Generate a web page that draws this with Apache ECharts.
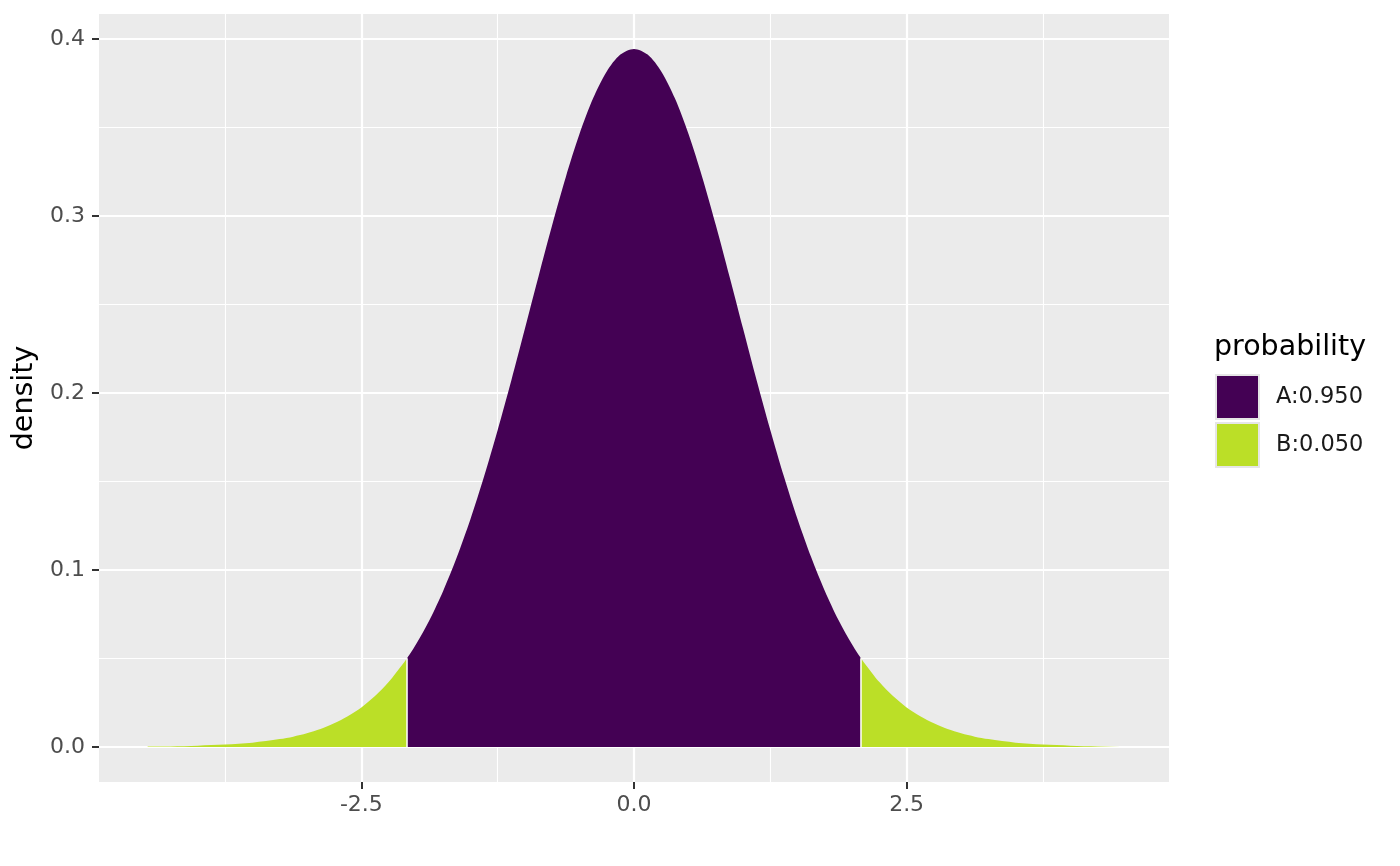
<!DOCTYPE html>
<html>
<head>
<meta charset="utf-8">
<title>density</title>
<script src="https://cdn.jsdelivr.net/npm/echarts@6/dist/echarts.min.js"></script>
<style>
  html, body { margin: 0; padding: 0; background: #fff; }
  #chart { width: 1400px; height: 866px; }
</style>
</head>
<body>
<div id="chart"></div>
<script>
// values: x and density for the three filled regions
const cutoff = 2.08;
const tailLeftX = [-4.46, -4.25, -4.0, -3.75, -3.5, -3.25, -3.125, -3.0, -2.875, -2.75, -2.625, -2.5, -2.375, -2.25, -2.08];
const tailLeftY = [0.0003, 0.0004, 0.0008, 0.0014, 0.0025, 0.0045, 0.0059, 0.0078, 0.0102, 0.0134, 0.0174, 0.0224, 0.0288, 0.0367, 0.0502];
const centerX = [-2.08, -2.0, -1.875, -1.75, -1.625, -1.5, -1.375, -1.25, -1.125, -1.0, -0.875, -0.75, -0.625, -0.5, -0.375, -0.25, -0.125, 0,
                 0.125, 0.25, 0.375, 0.5, 0.625, 0.75, 0.875, 1.0, 1.125, 1.25, 1.375, 1.5, 1.625, 1.75, 1.875, 2.0, 2.08];
const centerY = [0.0502, 0.0579, 0.0718, 0.0882, 0.1072, 0.1287, 0.1528, 0.1791, 0.2071, 0.2364, 0.2659, 0.2948, 0.3220, 0.3462, 0.3664, 0.3816, 0.3911, 0.3943,
                 0.3911, 0.3816, 0.3664, 0.3462, 0.3220, 0.2948, 0.2659, 0.2364, 0.2071, 0.1791, 0.1528, 0.1287, 0.1072, 0.0882, 0.0718, 0.0579, 0.0502];
const tailRightX = [2.08, 2.25, 2.375, 2.5, 2.625, 2.75, 2.875, 3.0, 3.125, 3.25, 3.5, 3.75, 4.0, 4.25, 4.46];
const tailRightY = [0.0502, 0.0367, 0.0288, 0.0224, 0.0174, 0.0134, 0.0102, 0.0078, 0.0059, 0.0045, 0.0025, 0.0014, 0.0008, 0.0004, 0.0003];

const groups = ['A:0.950', 'B:0.050'];
const xMajor = [-2.5, 0, 2.5];
const xMinor = [-3.75, -1.25, 1.25, 3.75];
const yMajor = [0, 0.1, 0.2, 0.3, 0.4];
const yMinor = [0.05, 0.15, 0.25, 0.35];

const colA = '#440154';
const colB = '#BBDF27';
const font = 'DejaVu Sans';

function pairs(xs, ys) {
    return xs.map((x, i) => [x, ys[i]]);
}

// ggplot style 5% expansion of the data range
const xLo = tailLeftX[0], xHi = tailRightX[tailRightX.length - 1];
const xPad = (xHi - xLo) * 0.05;
const yTop = Math.max(...centerY);
const yPad = yTop * 0.05;

let myChart = echarts.init(document.getElementById('chart'));

function areaSeries(name, data, color, extra) {
    return Object.assign({
        name: name,
        type: 'line',
        xAxisIndex: 0,
        yAxisIndex: 0,
        data: data,
        smooth: 0.3,
        symbol: 'none',
        lineStyle: { width: 0 },
        areaStyle: { color: color, opacity: 1 },
        itemStyle: { color: color },
        silent: true,
        z: 3
    }, extra || {});
}

const valAxisBase = {
    type: 'value',
    axisLine: { show: false, onZero: false },
    minorTick: { show: false }
};

const tickStyle = { color: '#333333', width: 2 };

let option = {
    animation: false,
    backgroundColor: '#ffffff',
    textStyle: { fontFamily: font },
    grid: {
        left: 99, right: 231, top: 14, bottom: 84,
        show: true, backgroundColor: '#EBEBEB', borderWidth: 0
    },
    title: {
        text: 'probability',
        left: 1214, top: 333, padding: 0,
        textStyle: { fontFamily: font, fontSize: 28.5, fontWeight: 'normal', color: '#000' }
    },
    legend: {
        data: groups,
        orient: 'vertical',
        left: 1215, top: 374, padding: 0,
        itemWidth: 43, itemHeight: 44, itemGap: 2,
        icon: 'rect',
        selectedMode: false,
        itemStyle: { borderColor: '#E6E6E6', borderWidth: 2 },
        textStyle: { fontFamily: font, fontSize: 22.5, color: '#1A1A1A', padding: [0, 0, 0, 12] }
    },
    xAxis: [
        Object.assign({}, valAxisBase, {
            min: xLo - xPad, max: xHi + xPad,
            axisTick: { show: true, length: 7, customValues: xMajor, lineStyle: tickStyle },
            axisLabel: {
                customValues: xMajor, margin: 12,
                fontFamily: font, fontSize: 22, color: '#4D4D4D',
                formatter: v => v.toFixed(1)
            },
            splitLine: { show: true, lineStyle: { color: '#fff', width: 2.2 } }
        }),
        Object.assign({}, valAxisBase, {
            min: xLo - xPad, max: xHi + xPad,
            axisTick: { show: false, customValues: xMinor },
            axisLabel: { show: false, customValues: xMinor },
            splitLine: { show: true, lineStyle: { color: '#fff', width: 1.1 } }
        })
    ],
    yAxis: [
        Object.assign({}, valAxisBase, {
            min: -yPad, max: yTop + yPad,
            name: 'density', nameLocation: 'middle', nameRotate: 90, nameGap: 60,
            nameTextStyle: { fontFamily: font, fontSize: 28.5, color: '#000' },
            axisTick: { show: true, length: 7, customValues: yMajor, lineStyle: tickStyle },
            axisLabel: {
                customValues: yMajor, margin: 14,
                fontFamily: font, fontSize: 22, color: '#4D4D4D',
                formatter: v => v.toFixed(1)
            },
            splitLine: { show: true, lineStyle: { color: '#fff', width: 2.2 } }
        }),
        Object.assign({}, valAxisBase, {
            min: -yPad, max: yTop + yPad,
            position: 'left',
            axisTick: { show: false, customValues: yMinor },
            axisLabel: { show: false, customValues: yMinor },
            splitLine: { show: true, lineStyle: { color: '#fff', width: 1.1 } }
        })
    ],
    series: [
        areaSeries(groups[1], pairs(tailLeftX, tailLeftY), colB),
        areaSeries(groups[0], pairs(centerX, centerY), colA, {
            markLine: {
                silent: true,
                symbol: 'none',
                label: { show: false },
                lineStyle: { color: '#fff', width: 1.5, type: 'solid' },
                data: [
                    [{ coord: [-cutoff, 0] }, { coord: [-cutoff, centerY[0]] }],
                    [{ coord: [cutoff, 0] }, { coord: [cutoff, centerY[centerY.length - 1]] }]
                ]
            }
        }),
        areaSeries(groups[1], pairs(tailRightX, tailRightY), colB)
    ]
};

myChart.setOption(option);

window.addEventListener('resize', function() {
    myChart.resize();
});
</script>
</body>
</html>
